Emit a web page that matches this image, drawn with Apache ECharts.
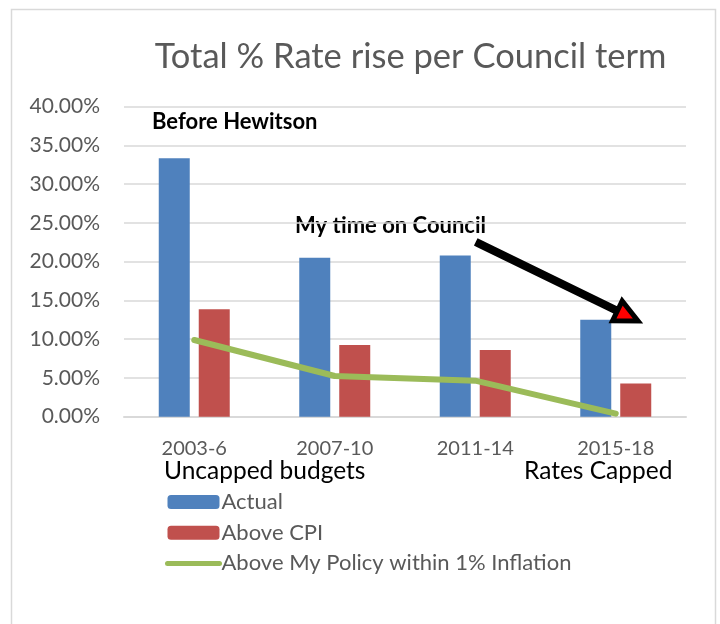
<!DOCTYPE html>
<html>
<head>
<meta charset="utf-8">
<script src="https://cdn.jsdelivr.net/npm/echarts@6/dist/echarts.min.js"></script>
<style>
html,body{margin:0;padding:0;background:#fff;}
#chart{width:720px;height:624px;}
</style>
</head>
<body>
<div id="chart"></div>
<script>
const categories = ['2003-6', '2007-10', '2011-14', '2015-18'];
const actual = [33.35, 20.5, 20.8, 12.5];
const aboveCPI = [13.85, 9.25, 8.6, 4.3];
const aboveMyPolicy = [9.9, 5.25, 4.65, 0.4];
const yTicks = {min: 0, max: 40, interval: 5};
const seriesNames = ['Actual', 'Above CPI', 'Above My Policy within 1% Inflation'];
const titleText = 'Total % Rate rise per Council term';

const chart = echarts.init(document.getElementById('chart'), null, {renderer: 'canvas'});
const FONT = 'Lato';

// arrow annotation geometry
const tail = [478, 243], tip = [638, 321];
const dx = tip[0] - tail[0], dy = tip[1] - tail[1];
const L = Math.hypot(dx, dy);
const u = [dx / L, dy / L], n = [-u[1], u[0]];
const headLen = 23, headHalf = 11, shaftHalf = 1.6;
const B = [tip[0] - headLen * u[0], tip[1] - headLen * u[1]];
const P = (p, k) => [p[0] + k * n[0], p[1] + k * n[1]];
const arrowPts = [P(tail, shaftHalf), P(B, shaftHalf), P(B, headHalf), tip, P(B, -headHalf), P(B, -shaftHalf), P(tail, -shaftHalf)];

chart.setOption({
  backgroundColor: '#ffffff',
  animation: false,
  title: {
    text: titleText,
    left: 405.5, top: 34, textAlign: 'center',
    textStyle: {fontFamily: FONT, fontSize: 34.5, fontWeight: 'normal', color: '#595959'}
  },
  grid: {left: 124, right: 34, top: 106.7, bottom: 207.3},
  legend: {
    orient: 'vertical', left: 165, top: 491, padding: 0,
    itemWidth: 52, itemHeight: 14, itemGap: 8.7,
    textStyle: {fontFamily: FONT, fontSize: 22, color: '#595959', padding: [0, 0, 0, -3]},
    data: [
      {name: seriesNames[0]},
      {name: seriesNames[1]},
      {name: seriesNames[2], itemStyle: {opacity: 0}, lineStyle: {width: 5, cap: 'round', color: '#9bbb59'}}
    ]
  },
  xAxis: {
    type: 'category', data: categories,
    axisLine: {show: true, lineStyle: {color: '#d9d9d9', width: 2}},
    axisTick: {show: false},
    axisLabel: {fontFamily: FONT, fontSize: 20, color: '#595959', margin: 22}
  },
  yAxis: {
    type: 'value', min: yTicks.min, max: yTicks.max, interval: yTicks.interval,
    axisLine: {show: false}, axisTick: {show: false},
    splitLine: {lineStyle: {color: '#d9d9d9', width: 1.5}},
    axisLabel: {fontFamily: FONT, fontSize: 21, color: '#595959', margin: 24,
      formatter: v => v.toFixed(2) + '%'}
  },
  series: [
    {name: seriesNames[0], type: 'bar', data: actual, barWidth: 31, barGap: '29%',
      itemStyle: {color: '#4f81bd'}},
    {name: seriesNames[1], type: 'bar', data: aboveCPI, barWidth: 31,
      itemStyle: {color: '#c0504d'}},
    {name: seriesNames[2], type: 'line', data: aboveMyPolicy, symbol: 'none',
      lineStyle: {color: '#9bbb59', width: 6, cap: 'round', join: 'round'},
      itemStyle: {color: '#9bbb59'}}
  ],
  graphic: [
    {type: 'rect', shape: {x: 11.5, y: 9.5, width: 704, height: 640},
      style: {fill: 'none', stroke: '#d9d9d9', lineWidth: 1.5}, silent: true, z: -1},
    {type: 'text', left: 152, top: 111,
      style: {text: 'Before Hewitson', font: 'bold 22px Lato', fill: '#000'}},
    {type: 'text', left: 295, top: 215,
      style: {text: 'My time on Council', font: 'bold 22px Lato', fill: '#000'}},
    {type: 'text', left: 164, top: 459,
      style: {text: 'Uncapped budgets', font: '24.5px Lato', fill: '#000'}},
    {type: 'text', left: 524, top: 459,
      style: {text: 'Rates Capped', font: '24.5px Lato', fill: '#000'}},
    {type: 'polygon', shape: {points: arrowPts},
      style: {fill: '#ff0000', stroke: '#000', lineWidth: 5, lineJoin: 'miter'}, z: 10}
  ]
});
</script>
</body>
</html>
